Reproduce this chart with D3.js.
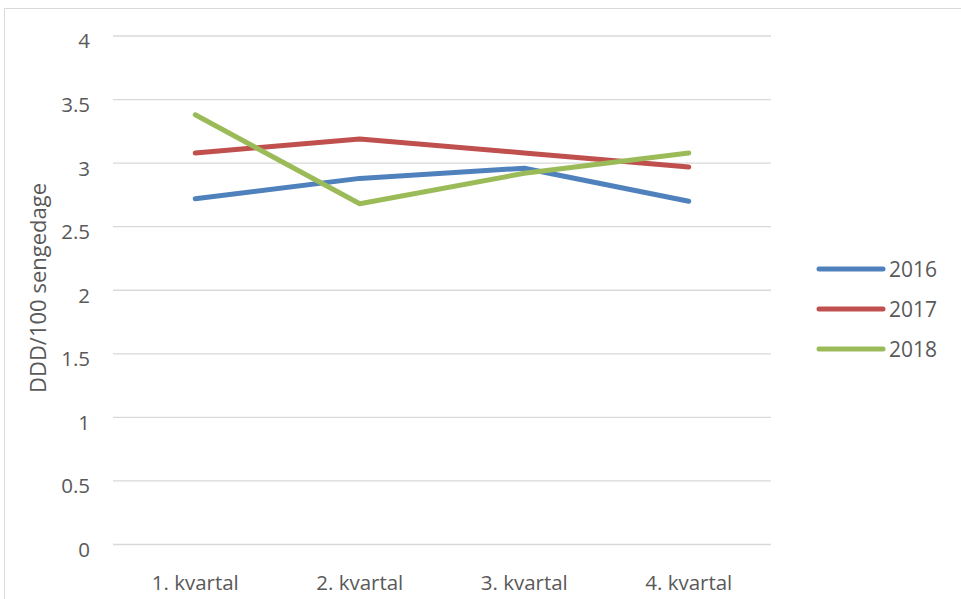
<!DOCTYPE html>
<html>
<head>
<meta charset="utf-8">
<script src="https://cdn.jsdelivr.net/npm/d3@7"></script>
<style>
  html, body { margin: 0; padding: 0; background: #fff; }
  svg { display: block; }
  text { font-family: "Open Sans", Lato, sans-serif; fill: #595959; }
</style>
</head>
<body>
<svg id="chart" width="961" height="599"></svg>
<script>
// Quarterly consumption, DDD per 100 bed-days
const categories = ["1. kvartal", "2. kvartal", "3. kvartal", "4. kvartal"];
const seriesNames = ["2016", "2017", "2018"];
const values2016 = [2.72, 2.88, 2.96, 2.70];
const values2017 = [3.08, 3.19, 3.08, 2.97];
const values2018 = [3.38, 2.68, 2.92, 3.08];
const yTicks = [0, 0.5, 1, 1.5, 2, 2.5, 3, 3.5, 4];
const colors = ["#4F81BD", "#C0504D", "#9BBB59"];

const series = [values2016, values2017, values2018].map((v, i) => ({
  name: seriesNames[i], values: v, color: colors[i]
}));

const svg = d3.select("#chart");
const plot = { left: 113, right: 771, top: 36, bottom: 544.5 };
const font = "'Open Sans', Lato, sans-serif";

// outer frame (top and left edges visible)
svg.append("path")
  .attr("d", "M4.5,599 L4.5,8.5 L961,8.5")
  .attr("fill", "none")
  .attr("stroke", "#d9d9d9")
  .attr("stroke-width", 1);

const x = d3.scaleBand().domain(categories).range([plot.left, plot.right]);
const y = d3.scaleLinear().domain([0, 4]).range([plot.bottom, plot.top]);

// horizontal gridlines
svg.append("g")
  .selectAll("line")
  .data(yTicks)
  .join("line")
  .attr("x1", plot.left).attr("x2", plot.right)
  .attr("y1", d => y(d)).attr("y2", d => y(d))
  .attr("stroke", "#d9d9d9")
  .attr("stroke-width", 1.3);

// y tick labels
const yAxis = d3.axisLeft(y).tickValues(yTicks).tickSize(0).tickPadding(0)
  .tickFormat(d => String(d));
svg.append("g")
  .attr("transform", `translate(90,0)`)
  .call(yAxis)
  .call(g => g.select(".domain").remove())
  .call(g => g.selectAll("text")
    .attr("dy", "0.58em")
    .attr("font-size", 20.5)
    .attr("font-family", font)
    .attr("fill", "#595959"));

// x category labels
const xAxis = d3.axisBottom(x).tickSize(0).tickPadding(0);
svg.append("g")
  .attr("transform", `translate(0,590)`)
  .call(xAxis)
  .call(g => g.select(".domain").remove())
  .call(g => g.selectAll("text")
    .attr("y", 0)
    .attr("dy", 0)
    .attr("font-size", 20.5)
    .attr("font-family", font)
    .attr("fill", "#595959"));

// y axis title
svg.append("text")
  .attr("transform", `translate(46,288) rotate(-90)`)
  .attr("text-anchor", "middle")
  .attr("font-size", 22)
  .text("DDD/100 sengedage");

// series lines
const line = d3.line()
  .x((d, i) => x(categories[i]) + x.bandwidth() / 2)
  .y(d => y(d));

svg.append("g")
  .selectAll("path")
  .data(series)
  .join("path")
  .attr("d", d => line(d.values))
  .attr("fill", "none")
  .attr("stroke", d => d.color)
  .attr("stroke-width", 5)
  .attr("stroke-linejoin", "round")
  .attr("stroke-linecap", "round");

// legend
const legend = svg.append("g")
  .selectAll("g")
  .data(series)
  .join("g")
  .attr("transform", (d, i) => `translate(819,${269 + i * 40})`);
legend.append("line")
  .attr("x1", 0).attr("x2", 64)
  .attr("stroke", d => d.color)
  .attr("stroke-width", 5)
  .attr("stroke-linecap", "round");
legend.append("text")
  .attr("x", 70)
  .attr("dy", "0.38em")
  .attr("font-size", 21)
  .text(d => d.name);
</script>
</body>
</html>
